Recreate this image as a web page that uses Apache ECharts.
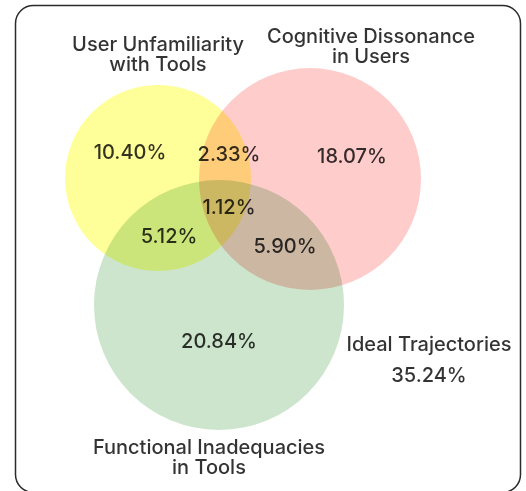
<!DOCTYPE html>
<html>
<head>
<meta charset="utf-8">
<script src="https://cdn.jsdelivr.net/npm/echarts@6/dist/echarts.min.js"></script>
<style>
  html, body { margin: 0; padding: 0; background: #fff; }
  #main { width: 526px; height: 491px; }
</style>
</head>
<body>
<div id="main"></div>
<script>
// set names and region shares (percent)
var setNames = ['User Unfamiliarity\nwith Tools', 'Cognitive Dissonance\nin Users', 'Functional Inadequacies\nin Tools'];
var setColors = ['#ffff99', '#ffcccc', '#cce5cc'];
var regionNames = ['U only', 'C only', 'F only', 'U&C', 'U&F', 'C&F', 'U&C&F', 'Ideal Trajectories'];
var regionValues = [10.40, 18.07, 20.84, 2.33, 5.12, 5.90, 1.12, 35.24];

// layout of the diagram (x, y, radius) in grid units, y grows downward
var circleLayout = [[158, 178, 93], [310, 179, 111], [219, 305, 125]];
var setLabelPos = [[158, 55], [371, 47], [209, 458]];
var regionLabelPos = [[130, 153], [352, 157], [219, 342], [229, 155], [169, 237], [285, 247], [229, 208], [429, 360]];

var myChart = echarts.init(document.getElementById('main'));

var fontFamily = 'Inter, "Noto Sans", sans-serif';

var circleData = circleLayout.map(function (c, i) {
    return [c[0], c[1], c[2], i];
});

var setLabelData = setLabelPos.map(function (p, i) {
    return { value: [p[0], p[1]], name: setNames[i] };
});

var regionLabelData = regionLabelPos.map(function (p, i) {
    var txt = regionValues[i].toFixed(2) + '%';
    if (regionNames[i] === 'Ideal Trajectories') {
        txt = 'Ideal Trajectories\n' + txt;
    }
    return { value: [p[0], p[1]], name: txt };
});

var option = {
    animation: false,
    grid: { left: 0, right: 0, top: 0, bottom: 0 },
    xAxis: { type: 'value', min: 0, max: 526, show: false },
    yAxis: { type: 'value', min: 0, max: 491, inverse: true, show: false },
    graphic: [
        {
            type: 'rect',
            left: 13,
            top: 3,
            shape: { width: 505, height: 487, r: 18 },
            style: { fill: 'none', stroke: '#2b2b2b', lineWidth: 1.5 },
            z: 100
        }
    ],
    series: [
        {
            type: 'custom',
            blendMode: 'multiply',
            silent: true,
            data: circleData,
            renderItem: function (params, api) {
                var c = api.coord([api.value(0), api.value(1)]);
                var s = api.size([api.value(2), api.value(2)]);
                return {
                    type: 'circle',
                    shape: { cx: c[0], cy: c[1], r: s[0] },
                    style: { fill: setColors[api.value(3)] }
                };
            }
        },
        {
            type: 'scatter',
            symbolSize: 0,
            silent: true,
            z: 10,
            data: setLabelData,
            label: {
                show: true,
                position: 'inside',
                formatter: '{b}',
                color: '#000',
                textBorderWidth: 0,
                fontFamily: fontFamily,
                fontWeight: 500,
                fontSize: 20,
                lineHeight: 20,
                align: 'center'
            }
        },
        {
            type: 'scatter',
            symbolSize: 0,
            silent: true,
            z: 10,
            data: regionLabelData,
            label: {
                show: true,
                position: 'inside',
                formatter: '{b}',
                color: '#000',
                textBorderWidth: 0,
                fontFamily: fontFamily,
                fontWeight: 500,
                fontSize: 20,
                lineHeight: 31,
                align: 'center'
            }
        }
    ]
};

myChart.setOption(option);
</script>
</body>
</html>
